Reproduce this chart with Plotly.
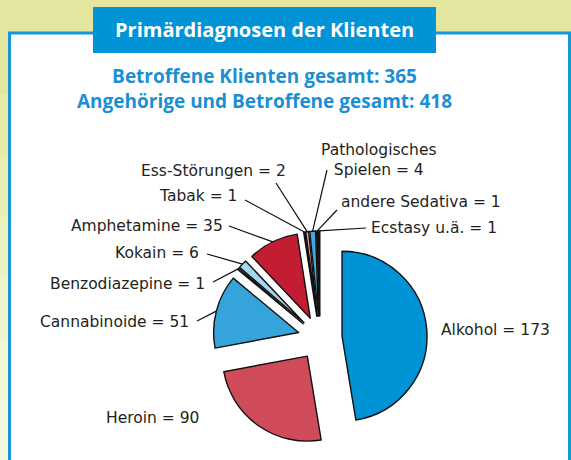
import math
import plotly.graph_objects as go

# ---------------- data ----------------
categories = ["Alkohol", "Heroin", "Cannabinoide", "Benzodiazepine", "Kokain",
              "Amphetamine", "Tabak", "Ess-Störungen", "Pathologisches Spielen",
              "andere Sedativa", "Ecstasy u.ä."]
values = [173, 90, 51, 1, 6, 35, 1, 2, 4, 1, 1]
label_texts = ["Alkohol = 173", "Heroin = 90", "Cannabinoide = 51", "Benzodiazepine = 1",
               "Kokain = 6", "Amphetamine = 35", "Tabak = 1", "Ess-Störungen = 2",
               "Pathologisches<br>Spielen = 4", "andere Sedativa = 1", "Ecstasy u.ä. = 1"]
slice_colors = ["#0093d6", "#cf4b5a", "#35a4db", "#ffffff", "#a3d8f0", "#c21d33",
                "#ffffff", "#eba3ad", "#45a5dd", "#ffffff", "#ffffff"]
title_text = "Primärdiagnosen der Klienten"
subtitle_lines = ["Betroffene Klienten gesamt: 365", "Angehörige und Betroffene gesamt: 418"]

# ---------------- layout geometry (pixels) ----------------
W, H = 571, 460
CX, CY = 320, 338      # pie centre
R = 85                 # pie radius
PULL = 0.26
half = R * (1 + PULL)

def px(x):
    return x / W

def py(y):
    return 1 - y / H

# label placement: text x, text y, xanchor, leader-line start (or None)
label_pos = {
    "Alkohol": (439, 330, "left", None),
    "Heroin": (201, 418, "right", None),
    "Cannabinoide": (191, 322, "right", (197, 321)),
    "Benzodiazepine": (207, 284, "right", (213, 282)),
    "Kokain": (201, 253, "right", (207, 254)),
    "Amphetamine": (225, 226, "right", (229, 226)),
    "Tabak": (239, 196, "right", (245, 200)),
    "Ess-Störungen": (288, 171, "right", (276, 183)),
    "Pathologisches Spielen": (379, 160, "center", (327, 170)),
    "andere Sedativa": (339, 202, "left", (337, 210)),
    "Ecstasy u.ä.": (369, 228, "left", (366, 228)),
}

total = sum(values)

fig = go.Figure()
fig.add_trace(go.Pie(
    labels=categories,
    values=values,
    sort=False,
    direction="clockwise",
    rotation=0,
    pull=[PULL] * len(values),
    marker=dict(colors=slice_colors, line=dict(color="#111111", width=1.4)),
    textinfo="none",
    hoverinfo="label+value",
    showlegend=False,
    domain=dict(x=[px(CX - half), px(CX + half)], y=[py(CY + half), py(CY - half)]),
))

shapes = []
# yellow background gradient on left strip
grad = ["#e4e59f", "#e6e9a8", "#e9edb4", "#ecf1c0", "#eff4cb", "#f1f6d4", "#f3f8dc"]
n = len(grad)
for i, c in enumerate(grad):
    y0 = 33 + (H - 33) * i / n
    y1 = 33 + (H - 33) * (i + 1) / n + 1
    shapes.append(dict(type="rect", xref="paper", yref="paper", x0=0, x1=px(10),
                       y0=py(y1), y1=py(y0), fillcolor=c, line=dict(width=0), layer="below"))
# white panel with blue border
shapes.append(dict(type="rect", xref="paper", yref="paper", x0=px(9.5), x1=px(569.5),
                   y0=py(475), y1=py(33), fillcolor="white",
                   line=dict(color="#1597dc", width=3), layer="below"))
# title box
shapes.append(dict(type="rect", xref="paper", yref="paper", x0=px(93), x1=px(436),
                   y0=py(53), y1=py(7), fillcolor="#0093d6", line=dict(width=0), layer="below"))

annotations = [
    dict(text="<b>" + title_text + "</b>", x=px(264), y=py(30), xref="paper", yref="paper",
         showarrow=False, font=dict(family="Open Sans", size=20, color="white"),
         xanchor="center", yanchor="middle"),
    dict(text="<b>" + subtitle_lines[0] + "</b><br><b>" + subtitle_lines[1] + "</b>",
         x=px(264), y=py(88), xref="paper", yref="paper", align="center",
         showarrow=False, font=dict(family="Open Sans", size=19, color="#1a90d3"),
         xanchor="center", yanchor="middle"),
]

cum = 0
for name, v, txt in zip(categories, values, label_texts):
    mid = 2 * math.pi * (cum + v / 2) / total
    cum += v
    tx, ty, anchor, start = label_pos[name]
    annotations.append(dict(text=txt, x=px(tx), y=py(ty), xref="paper", yref="paper",
                            showarrow=False, xanchor=anchor, yanchor="middle", align="center",
                            font=dict(family="DejaVu Sans", size=15.5, color="#231f20")))
    if start is not None:
        ex = CX + half * math.sin(mid)
        ey = CY - half * math.cos(mid)
        shapes.append(dict(type="line", xref="paper", yref="paper",
                           x0=px(start[0]), y0=py(start[1]), x1=px(ex), y1=py(ey),
                           line=dict(color="#111111", width=1.2), layer="above"))

fig.update_layout(
    width=W, height=H,
    margin=dict(l=0, r=0, t=0, b=0),
    paper_bgcolor="#e4e59f",
    plot_bgcolor="white",
    shapes=shapes,
    annotations=annotations,
)

fig.write_html("out.html", config={"displayModeBar": False},
               post_script="document.body.style.margin='0px';document.body.style.overflow='hidden';")
